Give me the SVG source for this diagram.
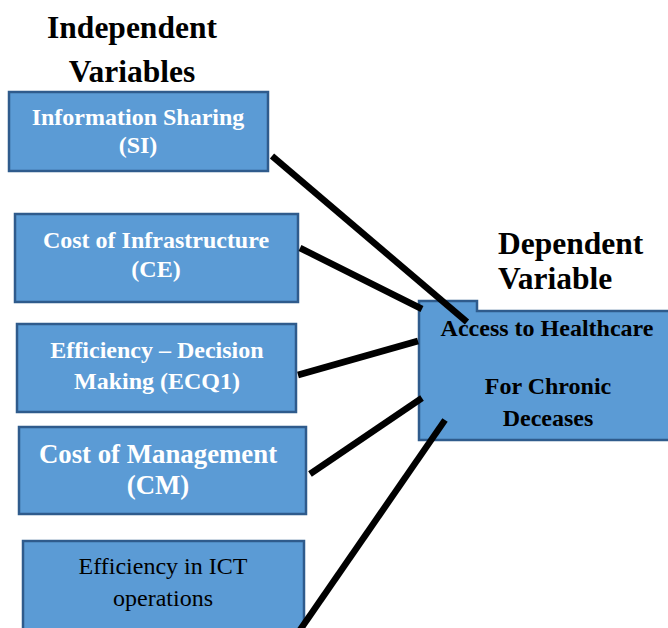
<svg xmlns="http://www.w3.org/2000/svg" width="668" height="628" viewBox="0 0 668 628">
<style>
.box{fill:#5b9bd5;stroke:#2f5b8c;stroke-width:2.5}
.hd{font-family:"Liberation Serif","Times New Roman",serif;font-weight:bold;font-size:31.5px;fill:#000}
.wt{font-family:"Liberation Serif","Times New Roman",serif;font-weight:bold;font-size:24px;fill:#fff;text-anchor:middle}
.bk{font-family:"Liberation Serif","Times New Roman",serif;font-weight:bold;font-size:24px;fill:#000;text-anchor:middle}
.nm{font-family:"Liberation Serif","Times New Roman",serif;font-size:24px;fill:#000;text-anchor:middle}
.ln{stroke:#000;stroke-width:6.5;fill:none}
</style>
<rect width="668" height="628" fill="#fff"/>
<g id="header-independent">
<text class="hd" x="132" y="38" text-anchor="middle">Independent</text>
<text class="hd" x="132" y="82" text-anchor="middle">Variables</text>
</g>
<g id="header-dependent">
<text class="hd" x="498" y="254">Dependent</text>
<text class="hd" x="498" y="289">Variable</text>
</g>
<g id="node-si">
<rect class="box" x="9" y="92" width="259" height="79"/>
<text class="wt" x="138" y="125">Information Sharing</text>
<text class="wt" x="138" y="153">(SI)</text>
</g>
<g id="node-ce">
<rect class="box" x="15" y="214" width="283" height="88"/>
<text class="wt" x="156" y="248">Cost of Infrastructure</text>
<text class="wt" x="156" y="277">(CE)</text>
</g>
<g id="node-ecq1">
<rect class="box" x="17" y="324" width="279" height="88"/>
<text class="wt" x="157" y="358">Efficiency – Decision</text>
<text class="wt" x="157" y="389">Making (ECQ1)</text>
</g>
<g id="node-cm">
<rect class="box" x="19" y="427" width="287" height="87"/>
<text class="wt" x="158" y="463" style="font-size:26.8px">Cost of Management</text>
<text class="wt" x="158" y="494" style="font-size:26.8px">(CM)</text>
</g>
<g id="node-ict">
<rect class="box" x="23" y="541" width="281" height="100"/>
<text class="nm" x="163" y="574">Efficiency in ICT</text>
<text class="nm" x="163" y="606">operations</text>
</g>
<g id="node-access">
<path class="box" d="M419,301 H477 V311 H670 V440 H419 Z"/>
<text class="bk" x="547" y="336">Access to Healthcare</text>
<text class="bk" x="548" y="394">For Chronic</text>
<text class="bk" x="548" y="426">Deceases</text>
</g>
<g id="connectors">
<line class="ln" x1="272" y1="156" x2="467" y2="322"/>
<line class="ln" x1="300" y1="248" x2="422" y2="309"/>
<line class="ln" x1="298" y1="375" x2="418" y2="341"/>
<line class="ln" x1="310" y1="474" x2="422" y2="398"/>
<line class="ln" x1="300" y1="630" x2="445" y2="420"/>
</g>
</svg>
